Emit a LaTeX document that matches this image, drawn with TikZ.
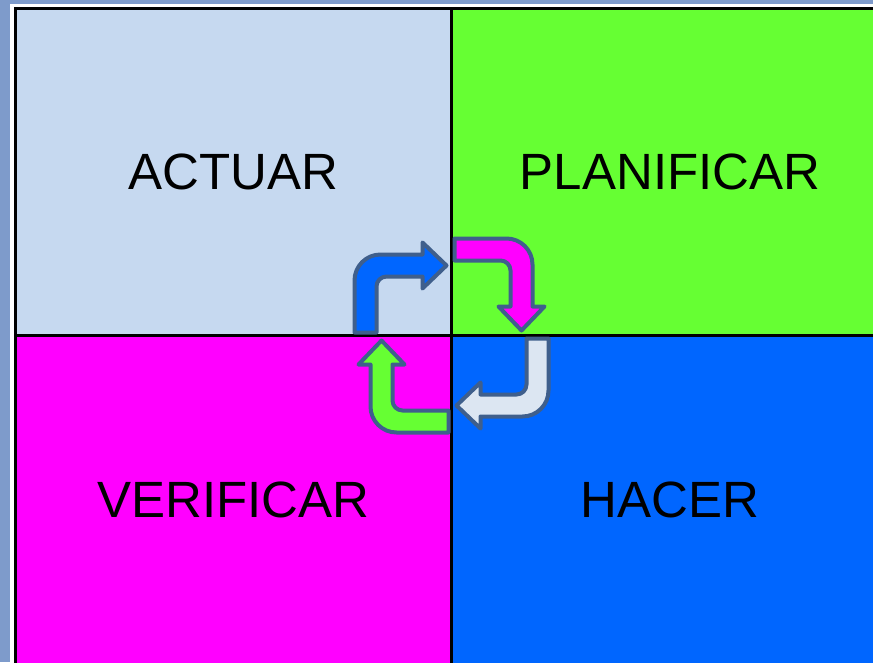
\documentclass[tikz,border=0pt]{standalone}
\usepackage{fontspec}
\setmainfont{Liberation Sans}
\definecolor{bgtex}{HTML}{7E9BCB}
\definecolor{cellTL}{HTML}{C6D9F0}
\definecolor{cellTR}{HTML}{66FF33}
\definecolor{cellBL}{HTML}{FF00FF}
\definecolor{cellBR}{HTML}{0066FF}
\definecolor{arrowline}{HTML}{3F5F8C}
\definecolor{arrowwhite}{HTML}{DCE6F2}
\tikzset{
  cell/.style={draw=black, line width=3pt, rectangle, inner sep=0pt,
    font=\fontsize{51}{60}\selectfont, text=black},
  arrowshape/.style={draw=arrowline, line width=4pt, line join=round, fill=#1},
  bentarrow/.pic={
    \path[arrowshape=#1] (-97,-3) -- (-97,-55)
      .. controls (-97,-69.36) and (-85.36,-81) .. (-71,-81)
      -- (-29,-81) -- (-29,-93) -- (-5,-70) -- (-29,-47) -- (-29,-59)
      -- (-65,-59) .. controls (-70.52,-59) and (-75,-54.48) .. (-75,-49)
      -- (-75,-3) -- cycle;
  }
}
\begin{document}
\begin{tikzpicture}[x=1pt,y=-1pt]
  \useasboundingbox (0,0) rectangle (873,662);
  \fill[bgtex] (0,0) rectangle (873,662);
  \fill[white] (10,4) rectangle (900,700);
  \node[cell, fill=cellTL, minimum width=436pt, minimum height=326.5pt] (act) at (233.5,171.75) {ACTUAR};
  \node[cell, fill=cellTR, minimum width=437pt, minimum height=326.5pt] (plan) at (670,171.75) {PLANIFICAR};
  \node[cell, fill=cellBL, minimum width=436pt, minimum height=328.5pt] (ver) at (233.5,499.75) {VERIFICAR};
  \node[cell, fill=cellBR, minimum width=437pt, minimum height=328.5pt] (hac) at (670,499.75) {HACER};
  \coordinate (c) at (451.5,335.5);
  \pic at (c) {bentarrow=cellBR};
  \pic[rotate=-90] at (c) {bentarrow=cellBL};
  \pic[rotate=-180] at (c) {bentarrow=arrowwhite};
  \pic[rotate=-270] at (c) {bentarrow=cellTR};
\end{tikzpicture}
\end{document}
